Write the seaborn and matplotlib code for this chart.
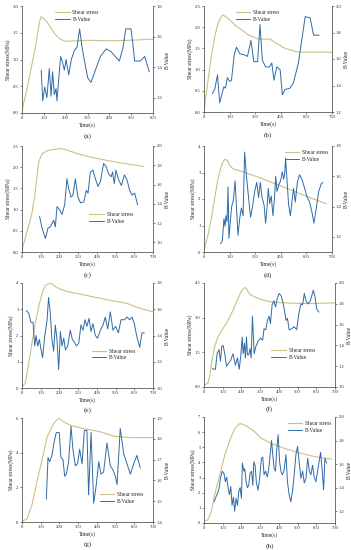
import matplotlib
matplotlib.use("Agg")
import matplotlib.pyplot as plt
import seaborn as sns

# ---- data (time in s, shear stress in MPa, b-value) ----
a_shear_t = [0, 20, 40, 60, 80, 88, 100, 115, 130, 150, 175, 200, 250, 300, 400, 500, 600]
a_shear = [0.05, 0.4, 0.8, 1.2, 1.7, 1.8, 1.76, 1.7, 1.6, 1.48, 1.38, 1.34, 1.35, 1.36, 1.35, 1.36, 1.38]
a_b_t = [88, 95, 104, 114, 125, 133, 140, 148, 156, 160, 177, 186, 194, 202, 214, 226, 240, 252, 264,
         275, 285, 301, 316, 336, 359, 386, 409, 427, 446, 463, 475, 499, 508, 516, 542, 562, 583]
a_b = [1.38, 1.18, 1.27, 1.20, 1.39, 1.21, 1.37, 1.22, 1.26, 1.18, 1.47, 1.43, 1.38, 1.45, 1.35, 1.45,
       1.51, 1.53, 1.65, 1.53, 1.45, 1.33, 1.30, 1.38, 1.47, 1.52, 1.50, 1.47, 1.44, 1.53, 1.65, 1.65,
       1.55, 1.44, 1.44, 1.47, 1.37]

b_shear_t = [0, 24, 43, 63, 82, 102, 112, 141, 181, 220, 259, 318, 357, 387, 416, 475, 534, 573, 750]
b_shear = [0.02, 0.76, 1.31, 1.78, 2.09, 2.25, 2.29, 2.21, 2.05, 1.94, 1.82, 1.72, 1.72, 1.72, 1.64,
           1.50, 1.43, 1.41, 1.41]
b_b_t = [49, 63, 79, 92, 102, 116, 126, 137, 151, 161, 177, 190, 210, 240, 255, 275, 292, 314, 328,
         342, 361, 383, 397, 410, 426, 446, 459, 475, 504, 524, 553, 593, 622, 642, 675]
b_b = [1.34, 1.37, 1.48, 1.27, 1.32, 1.39, 1.38, 1.46, 1.43, 1.44, 1.63, 1.69, 1.64, 1.63, 1.62, 1.74,
       1.58, 1.58, 1.86, 1.59, 1.54, 1.54, 1.57, 1.44, 1.54, 1.52, 1.33, 1.37, 1.38, 1.42, 1.57, 1.92,
       1.91, 1.78, 1.78]

c_shear_t = [0, 27, 53, 71, 89, 107, 142, 205, 231, 294, 365, 454, 543, 632, 650]
c_shear = [0.05, 0.48, 0.91, 1.42, 2.12, 2.32, 2.40, 2.44, 2.42, 2.32, 2.24, 2.16, 2.09, 2.03, 2.02]
c_b_t = [94, 107, 125, 139, 151, 169, 178, 187, 201, 214, 228, 240, 249, 262, 272, 285, 299, 312, 330,
         344, 353, 365, 379, 392, 406, 419, 436, 451, 463, 476, 484, 493, 502, 516, 531, 547, 561, 575,
         588, 602, 618]
c_b = [1.27, 1.15, 1.04, 1.15, 1.16, 1.23, 1.16, 1.37, 1.34, 1.29, 1.39, 1.66, 1.56, 1.47, 1.49, 1.66,
       1.47, 1.41, 1.42, 1.54, 1.51, 1.73, 1.75, 1.66, 1.58, 1.63, 1.82, 1.78, 1.71, 1.68, 1.73, 1.61,
       1.75, 1.65, 1.59, 1.70, 1.65, 1.54, 1.49, 1.51, 1.39]

d_shear_t = [0, 23, 43, 62, 82, 102, 121, 137, 150, 170, 219, 316, 414, 512, 609, 717]
d_shear = [0.06, 0.63, 1.26, 2.01, 2.77, 3.27, 3.50, 3.46, 3.27, 3.14, 3.04, 2.83, 2.58, 2.33, 2.08, 1.82]
d_b_t = [96, 107, 117, 123, 129, 135, 141, 146, 154, 162, 172, 182, 191, 199, 209, 219, 229, 238, 248,
         262, 273, 287, 297, 309, 320, 330, 340, 352, 361, 369, 377, 385, 394, 404, 414, 420, 428, 437,
         449, 459, 467, 473, 478, 486, 496, 506, 516, 525, 535, 547, 560, 574, 590, 605, 619, 633, 644,
         658, 672, 687, 697]
d_b = [1.155, 1.17, 1.32, 1.27, 1.34, 1.30, 1.53, 1.19, 1.30, 1.40, 1.44, 1.57, 1.38, 1.21, 1.32, 1.39,
       1.34, 1.76, 1.61, 1.45, 1.33, 1.42, 1.50, 1.56, 1.46, 1.56, 1.46, 1.41, 1.29, 1.39, 1.52, 1.42,
       1.47, 1.34, 1.47, 1.60, 1.50, 1.54, 1.57, 1.63, 1.58, 1.62, 1.72, 1.58, 1.41, 1.34, 1.44, 1.52,
       1.43, 1.56, 1.61, 1.58, 1.52, 1.46, 1.43, 1.36, 1.29, 1.39, 1.50, 1.55, 1.56]

e_shear_t = [0, 18, 36, 53, 71, 89, 107, 125, 151, 169, 196, 223, 240, 294, 383, 472, 561, 632, 700]
e_shear = [0.04, 0.19, 0.95, 1.70, 2.46, 3.09, 3.60, 3.91, 4.0, 3.91, 3.79, 3.72, 3.68, 3.60, 3.47,
           3.34, 3.22, 3.03, 2.90]
e_b_t = [23, 36, 48, 59, 68, 75, 84, 93, 102, 110, 121, 134, 142, 151, 160, 169, 178, 187, 196, 205,
         214, 223, 232, 244, 258, 269, 280, 290, 303, 315, 326, 337, 347, 358, 369, 379, 392, 404, 419,
         433, 445, 458, 472, 486, 500, 515, 529, 547, 561, 575, 588, 600, 614, 629, 641, 654]
e_b = [1.59, 1.57, 1.50, 1.50, 1.32, 1.40, 1.32, 1.37, 1.29, 1.23, 1.39, 1.52, 1.69, 1.57, 1.37, 1.28,
       1.48, 1.37, 1.14, 1.43, 1.32, 1.38, 1.29, 1.32, 1.44, 1.37, 1.35, 1.32, 1.34, 1.48, 1.44, 1.52,
       1.47, 1.53, 1.43, 1.49, 1.40, 1.38, 1.44, 1.48, 1.54, 1.45, 1.58, 1.44, 1.47, 1.42, 1.52, 1.52,
       1.54, 1.52, 1.54, 1.49, 1.39, 1.31, 1.42, 1.42]

f_shear_t = [0, 21, 30, 43, 57, 75, 102, 129, 155, 182, 200, 218, 227, 236, 245, 271, 307, 361, 432,
             557, 700]
f_shear = [0.06, 0.17, 0.46, 1.18, 1.75, 2.18, 2.54, 2.89, 3.32, 3.83, 4.16, 4.30, 4.26, 4.11, 4.01,
           3.90, 3.78, 3.68, 3.64, 3.61, 3.64]
f_b_t = [45, 54, 61, 70, 80, 88, 95, 102, 111, 120, 132, 143, 155, 168, 179, 188, 196, 204, 209, 216,
         221, 227, 232, 239, 246, 252, 259, 268, 277, 289, 302, 313, 321, 330, 339, 348, 355, 364, 373,
         382, 391, 402, 414, 427, 438, 446, 455, 468, 482, 495, 507, 518, 527, 536, 545, 554, 566, 575,
         584, 593, 602, 614]
f_b = [1.18, 1.17, 1.17, 1.32, 1.36, 1.25, 1.39, 1.40, 1.32, 1.20, 1.23, 1.26, 1.32, 1.21, 1.28, 1.17,
       1.29, 1.48, 1.32, 1.42, 1.28, 1.48, 1.31, 1.31, 1.37, 1.28, 1.68, 1.32, 1.39, 1.44, 1.47, 1.45,
       1.56, 1.55, 1.64, 1.68, 1.61, 1.79, 1.83, 1.77, 1.85, 1.90, 1.87, 1.77, 1.64, 1.66, 1.55, 1.56,
       1.58, 1.55, 1.71, 1.80, 1.79, 1.90, 1.83, 1.80, 1.82, 1.87, 1.93, 1.87, 1.75, 1.72]

g_shear_t = [0, 27, 53, 80, 107, 134, 169, 196, 223, 258, 329, 419, 490, 579, 700]
g_shear = [0.04, 0.19, 0.99, 2.33, 3.57, 4.91, 5.68, 6.0, 5.77, 5.58, 5.39, 5.20, 4.95, 4.87, 4.87]
g_b_t = [130, 139, 148, 160, 171, 183, 199, 208, 219, 228, 237, 249, 262, 272, 285, 297, 308, 321, 333,
         347, 356, 369, 383, 397, 410, 422, 436, 454, 472, 486, 499, 508, 525, 543, 561, 579, 597, 614,
         632]
g_b = [1.51, 1.71, 1.69, 1.72, 1.78, 1.83, 1.83, 1.71, 1.70, 1.62, 1.63, 1.69, 1.86, 1.75, 1.67, 1.68,
       1.75, 1.68, 1.84, 1.84, 1.53, 1.83, 1.49, 1.58, 1.69, 1.63, 1.64, 1.78, 1.67, 1.65, 1.62, 1.58,
       1.85, 1.73, 1.68, 1.63, 1.68, 1.72, 1.66]

h_shear_t = [0, 21, 39, 57, 84, 111, 138, 164, 191, 209, 236, 271, 307, 361, 432, 521, 593, 682]
h_shear = [0.1, 0.22, 0.77, 1.86, 3.17, 4.48, 5.47, 6.23, 6.56, 6.52, 6.34, 6.02, 5.58, 5.25, 4.92,
           4.59, 4.38, 4.22]
h_b_t = [54, 66, 79, 89, 98, 107, 114, 121, 129, 136, 143, 150, 157, 164, 171, 179, 186, 193, 200, 205,
         213, 218, 225, 232, 239, 246, 254, 261, 266, 273, 280, 289, 298, 307, 314, 321, 329, 338, 346,
         354, 361, 368, 375, 382, 389, 396, 404, 411, 418, 427, 438, 446, 455, 464, 473, 482, 491, 500,
         509, 518, 527, 536, 545, 554, 563, 571, 580, 589, 598, 611, 623, 632, 639, 646, 655]
h_b = [1.28, 1.33, 1.38, 1.49, 1.54, 1.52, 1.45, 1.49, 1.40, 1.34, 1.41, 1.25, 1.32, 1.20, 1.31, 1.25,
       1.37, 1.40, 1.31, 1.61, 1.54, 1.56, 1.45, 1.40, 1.42, 1.52, 1.54, 1.42, 1.62, 1.59, 1.44, 1.38,
       1.49, 1.65, 1.66, 1.51, 1.54, 1.49, 1.56, 1.69, 1.80, 1.67, 1.56, 1.54, 1.73, 1.85, 1.62, 1.54,
       1.51, 1.54, 1.68, 1.45, 1.34, 1.28, 1.37, 1.51, 1.68, 1.75, 1.61, 1.48, 1.54, 1.44, 1.48, 1.65,
       1.54, 1.51, 1.59, 1.49, 1.45, 1.58, 1.70, 1.54, 1.38, 1.65, 1.61]

captions = ["(a)", "(b)", "(c)", "(d)", "(e)", "(f)", "(g)", "(h)"]

SHEAR_C = "#c9c184"
B_C = "#2f6aa7"
W, H = 351, 550

sns.set_style("ticks")
plt.rcParams["font.family"] = ["Liberation Serif", "DejaVu Serif"]
plt.rcParams["font.size"] = 4

fig = plt.figure(figsize=(W / 100, H / 100), dpi=100)


def make_axes(l, t, r, b):
    return fig.add_axes([l / W, 1 - b / H, (r - l) / W, (b - t) / H])


def panel(box, shear_t, shear, b_t, b, xlim, xticks, ylim, yticks, blim, bticks, cap, leg_loc):
    ax = make_axes(*box)
    sns.lineplot(x=shear_t, y=shear, ax=ax, color=SHEAR_C, lw=0.8, label="Shear stress", legend=False)
    ax2 = ax.twinx()
    sns.lineplot(x=b_t, y=b, ax=ax2, color=B_C, lw=0.7, label="B-Value", legend=False)

    ax.set_xlim(*xlim)
    ax.set_xticks(xticks)
    ax.set_ylim(*ylim)
    ax.set_yticks(yticks)
    ax2.set_ylim(*blim)
    ax2.set_yticks(bticks)
    ax.set_xlabel("Time(s)", fontsize=4, labelpad=1.5)
    ax.set_ylabel("Shear stress(MPa)", fontsize=4, labelpad=1.5)
    ax2.set_ylabel("B-Value", fontsize=4, labelpad=2)
    for a in (ax, ax2):
        a.tick_params(labelsize=3.3, length=1.5, width=0.4, pad=1)
        for s in a.spines.values():
            s.set_linewidth(0.4)
            s.set_color("#555555")
        a.spines["top"].set_visible(False)
    ax.text(0.5, -0.215, cap, transform=ax.transAxes, ha="center", va="center", fontsize=5.2)

    h1, l1 = ax.get_legend_handles_labels()
    h2, l2 = ax2.get_legend_handles_labels()
    ax2.legend(h1 + h2, l1 + l2, frameon=False, fontsize=4, handlelength=2.6,
               borderpad=0.2, labelspacing=0.3, handletextpad=0.5, **leg_loc)
    return ax


upper_a = dict(loc="upper center", bbox_to_anchor=(0.42, 1.0))
upper_r = dict(loc="upper right", bbox_to_anchor=(1.0, 1.0))

panel((22, 6, 153, 113), a_shear_t, a_shear, a_b_t, a_b, (0, 600), range(0, 601, 100),
      (0, 2.0), [0.0, 0.5, 1.0, 1.5, 2.0], (1.1, 1.8), [1.2, 1.4, 1.6, 1.8], captions[0], upper_a)
panel((204, 6, 332, 112), b_shear_t, b_shear, b_b_t, b_b, (0, 750), range(0, 751, 150),
      (0, 2.5), [0.0, 0.5, 1.0, 1.5, 2.0, 2.5], (1.2, 2.0), [1.2, 1.4, 1.6, 1.8, 2.0], captions[1],
      dict(loc="upper center", bbox_to_anchor=(0.42, 1.0)))
panel((22, 146, 153, 252), c_shear_t, c_shear, c_b_t, c_b, (0, 700), range(0, 701, 100),
      (0, 2.5), [0.0, 0.5, 1.0, 1.5, 2.0, 2.5], (0.9, 2.0), [1.0, 1.2, 1.4, 1.6, 1.8, 2.0], captions[2],
      dict(loc="center", bbox_to_anchor=(0.68, 0.32)))
panel((204, 146, 332, 252), d_shear_t, d_shear, d_b_t, d_b, (0, 750), range(0, 751, 150),
      (0, 4), [0, 1, 2, 3, 4], (1.1, 1.8), [1.2, 1.4, 1.6, 1.8], captions[3], upper_r)
panel((22, 283, 153, 388), e_shear_t, e_shear, e_b_t, e_b, (0, 700), range(0, 701, 100),
      (0, 4), [0, 1, 2, 3, 4], (1.0, 1.8), [1.0, 1.2, 1.4, 1.6, 1.8], captions[4],
      dict(loc="center", bbox_to_anchor=(0.70, 0.32)))
panel((204, 283, 335, 387), f_shear_t, f_shear, f_b_t, f_b, (0, 700), range(0, 701, 100),
      (0, 4.5), [0.0, 1.5, 3.0, 4.5], (1.0, 2.0), [1.0, 1.2, 1.4, 1.6, 1.8, 2.0], captions[5],
      dict(loc="center", bbox_to_anchor=(0.68, 0.32)))
panel((22, 418, 153, 522), g_shear_t, g_shear, g_b_t, g_b, (0, 700), range(0, 701, 100),
      (0, 6), [0, 2, 4, 6], (1.4, 1.9), [1.4, 1.5, 1.6, 1.7, 1.8, 1.9], captions[6],
      dict(loc="center", bbox_to_anchor=(0.76, 0.23)))
panel((204, 417, 335, 523), h_shear_t, h_shear, h_b_t, h_b, (0, 700), range(0, 701, 100),
      (0, 7), list(range(0, 8)), (1.1, 2.0), [1.2, 1.4, 1.6, 1.8, 2.0], captions[7], upper_r)

fig.savefig("out.png", dpi=100)
